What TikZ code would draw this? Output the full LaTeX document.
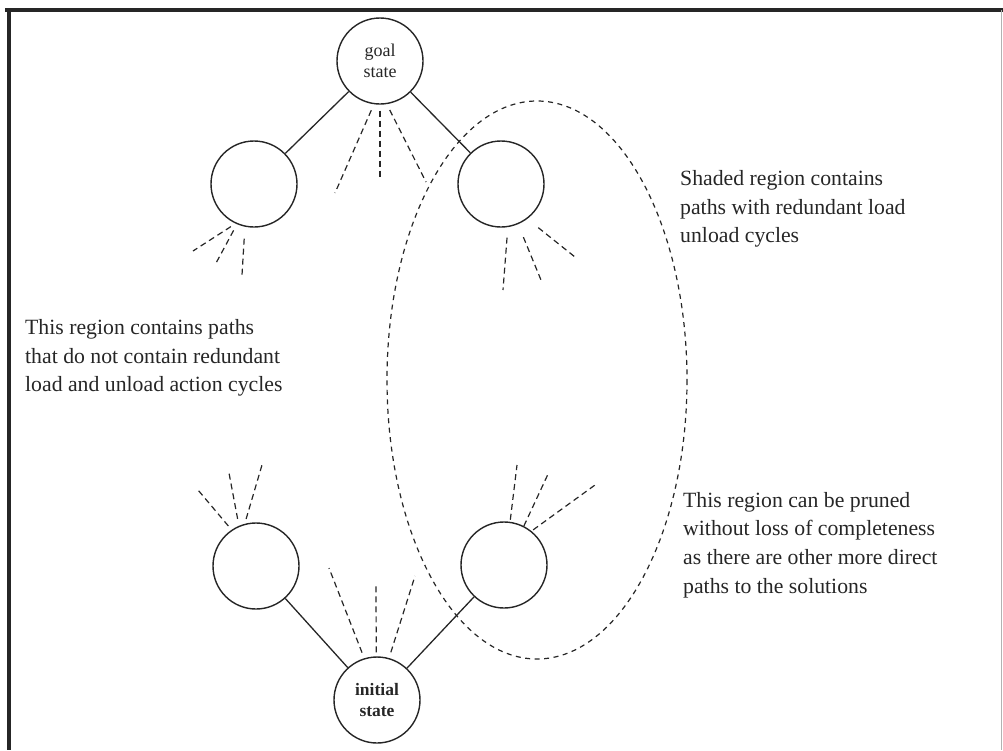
\documentclass[tikz,border=0pt]{standalone}
\usepackage{fontspec}
\setmainfont{Liberation Serif}
\definecolor{ink}{HTML}{262626}
\begin{document}
\begin{tikzpicture}[x=1pt,y=-1pt,
  state/.style={circle, draw=ink, line width=1.4pt, minimum size=86pt, inner sep=0pt,
    align=center, text=ink, font=\fontsize{18}{21}\selectfont},
  link/.style={draw=ink, line width=1.3pt},
  stub/.style={draw=ink, line width=1.2pt, dash pattern=on 6pt off 4pt},
  region/.style={draw=ink, line width=1.2pt, dash pattern=on 5pt off 4.5pt},
  note/.style={anchor=west, align=left, inner sep=0pt, text=ink,
    font=\fontsize{21.75}{28.7}\selectfont},
  frameline/.style={line width=3.5pt, draw=black!85}]
\useasboundingbox (0,0) rectangle (1003,750);

% frame
\draw[frameline] (5,10) -- (1003,10);
\draw[frameline] (9,8.5) -- (9,750);
\draw[line width=0.8pt, draw=black!30] (1001.5,10) -- (1001.5,750);

% states
\node[state] (goal) at (380,61) {goal\\state};
\node[state] (lt) at (254,184) {};
\node[state] (rt) at (501,184) {};
\node[state] (lb) at (256,566) {};
\node[state] (rb) at (504,565) {};
\node[state, font=\fontsize{17.5}{21}\selectfont\bfseries] (init) at (377,700) {initial\\state};

% tree edges
\draw[link] (goal) -- (lt);
\draw[link] (goal) -- (rt);
\draw[link] (init) -- (lb);
\draw[link] (init) -- (rb);

% loose ends of further branches
\coordinate (g1) at (335,193);
\coordinate (g2) at (380,180);
\coordinate (g3) at (426,182);
\draw[stub, shorten <=6.5pt] (goal.-98) -- (g1);
\draw[stub, shorten <=6pt] (goal.-90) -- (g2);
\draw[stub, shorten <=6.5pt] (goal.-81) -- (g3);

\coordinate (lt1) at (193,251);
\coordinate (lt2) at (215,265);
\coordinate (lt3) at (242,275);
\draw[stub, shorten <=5.5pt] (lt.-115.5) -- (lt1);
\draw[stub, shorten <=7pt] (lt.-113.5) -- (lt2);
\draw[stub, shorten <=12pt] (lt.-102.5) -- (lt3);

\coordinate (rt1) at (503,290);
\coordinate (rt2) at (541,280);
\coordinate (rt3) at (575,257);
\draw[stub, shorten <=10.5pt] (rt.-81.4) -- (rt1);
\draw[stub, shorten <=14pt] (rt.-67.5) -- (rt2);
\draw[stub, shorten <=14pt] (rt.-53.5) -- (rt3);

\coordinate (lb1) at (198,490);
\coordinate (lb2) at (229,473);
\coordinate (lb3) at (262,465);
\draw[stub, shorten <=5pt] (lb.124) -- (lb1);
\draw[stub, shorten <=7pt] (lb.113.5) -- (lb2);
\draw[stub, shorten <=5pt] (lb.105.8) -- (lb3);

\coordinate (in1) at (329,568);
\coordinate (in2) at (376,583);
\coordinate (in3) at (415,576);
\draw[stub, shorten <=6pt] (init.107.7) -- (in1);
\draw[stub, shorten <=4pt] (init.91.2) -- (in2);
\draw[stub, shorten <=6pt] (init.74.5) -- (in3);

\coordinate (rb1) at (517,465);
\coordinate (rb2) at (549,472);
\coordinate (rb3) at (595,485);
\draw[stub, shorten <=2pt] (rb.82.4) -- (rb1);
\draw[stub] (rb.63.4) -- (rb2);
\draw[stub, shorten <=2pt] (rb.51.3) -- (rb3);

% region with redundant load/unload cycles
\draw[region] (537,380) ellipse [x radius=150, y radius=279];

% annotations
\node[note] (shaded) at (680,209) {Shaded region contains\\paths with redundant load\\unload cycles};
\node[note] (plain) at (25,358) {This region contains paths\\that do not contain redundant\\load and unload action cycles};
\node[note] (pruned) at (683,545) {This region can be pruned\\without loss of completeness\\as there are other more direct\\paths to the solutions};
\end{tikzpicture}
\end{document}
